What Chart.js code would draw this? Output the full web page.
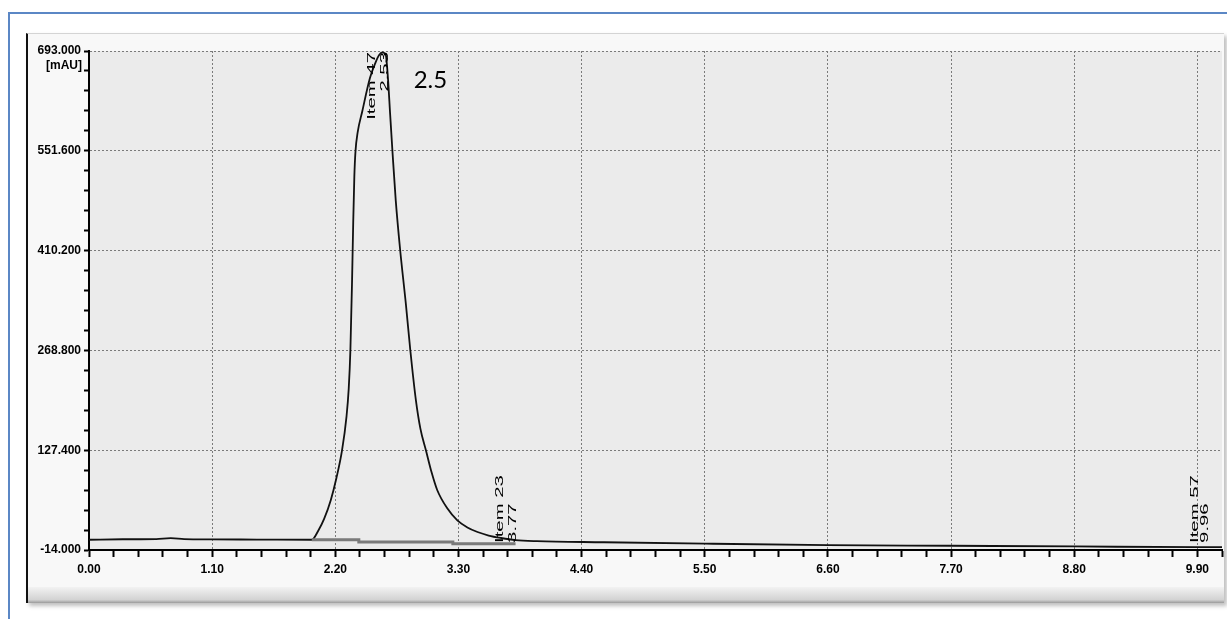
<!DOCTYPE html>
<html lang="en">
<head>
    <meta charset="UTF-8">
    <title>Chromatogram</title>
    <script src="https://cdn.jsdelivr.net/npm/chart.js"></script>
    <style>
        body {
            margin: 0;
            width: 1227px;
            height: 619px;
            overflow: hidden;
            background: #ffffff;
            position: relative;
        }

        /* blue outer border (only left and top visible) */
        .frame {
            position: absolute;
            left: 8px;
            top: 12px;
            width: 1260px;
            height: 660px;
            border-left: 2px solid #5b87c5;
            border-top: 2px solid #5b87c5;
        }

        .panel {
            position: absolute;
            left: 26px;
            top: 33px;
            width: 1196px;
            height: 569px;
            background: #f8f8f8;
            border-left: 2px solid #111;
            border-top: 1px solid #d4d4d4;
            box-shadow: 3px 3px 4px rgba(0, 0, 0, 0.25);
        }

        .bevel {
            position: absolute;
            left: 0;
            right: 0;
            bottom: 0;
            height: 16px;
            background: linear-gradient(#f2f2f2, #d2d2d2 80%, #9a9a9a);
        }

        .chart-box {
            position: absolute;
            left: 0;
            top: 0;
            width: 1227px;
            height: 619px;
        }
    </style>
</head>
<body>
    <div class="frame"></div>
    <div class="panel"><div class="bevel"></div></div>
    <div class="chart-box"><canvas id="chrom"></canvas></div>

    <script>
        // retention time (min) and signal (mAU)
        const times = [0.00, 0.30, 0.60, 0.73, 0.85, 1.10, 1.50, 1.99, 2.05, 2.10,
            2.16, 2.21, 2.26, 2.30, 2.32, 2.335, 2.35, 2.36, 2.37, 2.38,
            2.40, 2.44, 2.51, 2.56, 2.59, 2.62, 2.65, 2.67, 2.69, 2.71,
            2.74, 2.78, 2.83, 2.87, 2.92, 2.96, 3.01, 3.06, 3.11, 3.20,
            3.29, 3.38, 3.47, 3.57, 3.68, 3.81, 4.00, 4.60, 5.50, 6.60,
            7.70, 8.80, 9.90, 10.12];
        const signal = [0.5, 1.2, 1.5, 2.8, 1.5, 1.0, 0.8, 0.5, 14, 30,
            57, 88, 127, 175, 215, 270, 370, 450, 515, 550,
            578, 607, 655, 677, 687, 691, 688, 655, 603, 552,
            481, 410, 335, 269, 198, 158, 127, 96, 71, 45,
            28, 18, 11.5, 6.5, 3, 0, -1.5, -3, -5, -7,
            -8, -9, -10, -10];

        // integration baseline under the main peak
        const baseTimes = [1.99, 2.41, 2.41, 3.25, 3.25, 3.81];
        const baseValues = [0.5, 0.5, -2.5, -2.5, -5, -5];

        // peak labels
        const peakNames = ['Item 47', 'Item 23', 'Item 57'];
        const peakTimes = ['2.53', '3.77', '9.96'];

        // axis ticks
        const xMajorTicks = ['0.00', '1.10', '2.20', '3.30', '4.40', '5.50', '6.60', '7.70', '8.80', '9.90'];
        const yMajorTicks = ['-14.000', '127.400', '268.800', '410.200', '551.600', '693.000'];
        const xMin = 0, xMax = 10.12, xMinorStep = 0.22;
        const yMin = -14, yMax = 693, yMinorStep = 28.28;
        const yUnit = '[mAU]';
        const noteText = '2.5';

        // label placement (px offsets from the peak time, anchor side)
        const labelLayout = [
            { dx: [0, 13], top: true },
            { dx: [-11, 2], top: false },
            { dx: [-9, 1], top: false }
        ];

        const axisFont = { family: '"Liberation Sans", Arial, sans-serif', size: 12, weight: 'bold' };

        function minorTicks(min, max, step) {
            const out = [];
            for (let i = 0; min + i * step <= max + 1e-6; i++) {
                out.push({ value: +(min + i * step).toFixed(4) });
            }
            return out;
        }

        function vText(ctx, text, x, y, fromTop) {
            ctx.save();
            ctx.translate(x, y);
            ctx.rotate(-Math.PI / 2);
            ctx.scale(1.85, 1);
            ctx.textAlign = fromTop ? 'right' : 'left';
            ctx.textBaseline = 'middle';
            ctx.fillText(text, 0, 0);
            ctx.restore();
        }

        const decor = {
            id: 'decor',
            beforeDraw(chart) {
                const { ctx, chartArea: a } = chart;
                ctx.save();
                ctx.fillStyle = '#ebebeb';
                ctx.fillRect(a.left, a.top, a.right - a.left, a.bottom - a.top);
                ctx.restore();
            },
            afterDatasetsDraw(chart) {
                const { ctx, scales } = chart;
                const xs = scales.x, ys = scales.y;
                ctx.save();
                ctx.fillStyle = '#000';

                // unit under the top y label
                ctx.font = 'bold 12px ' + axisFont.family;
                ctx.textAlign = 'right';
                ctx.textBaseline = 'middle';
                ctx.fillText(yUnit, xs.left - 7, ys.getPixelForValue(yMax) + 15);

                // rotated peak labels
                ctx.font = '11px Arial, "Liberation Sans", sans-serif';
                peakNames.forEach((name, i) => {
                    const px = xs.getPixelForValue(parseFloat(peakTimes[i]));
                    const lay = labelLayout[i];
                    const py = lay.top ? ys.getPixelForValue(yMax) + 1 : ys.getPixelForValue(-4);
                    vText(ctx, name, px + lay.dx[0], py, lay.top);
                    vText(ctx, peakTimes[i], px + lay.dx[1], py, lay.top);
                });

                // annotation text
                ctx.font = '24px Lato, "Open Sans", sans-serif';
                ctx.textAlign = 'left';
                ctx.textBaseline = 'alphabetic';
                ctx.fillText(noteText, xs.getPixelForValue(2.9), ys.getPixelForValue(640));
                ctx.restore();
            }
        };

        new Chart(document.getElementById('chrom'), {
            type: 'line',
            data: {
                datasets: [
                    {
                        data: baseTimes.map((t, i) => ({ x: t, y: baseValues[i] })),
                        borderColor: '#7a7a7a',
                        borderWidth: 3,
                        pointRadius: 0
                    },
                    {
                        data: times.map((t, i) => ({ x: t, y: signal[i] })),
                        borderColor: '#111',
                        borderWidth: 1.8,
                        pointRadius: 0,
                        cubicInterpolationMode: 'monotone'
                    }
                ]
            },
            plugins: [decor],
            options: {
                responsive: true,
                maintainAspectRatio: false,
                animation: false,
                layout: { padding: { left: 26, top: 51, right: 5, bottom: 19 } },
                plugins: { legend: { display: false }, tooltip: { enabled: false } },
                scales: {
                    x: {
                        type: 'linear',
                        min: xMin,
                        max: xMax,
                        afterBuildTicks: s => { s.ticks = minorTicks(xMin, xMax, xMinorStep); },
                        afterFit: s => { s.height = 50; },
                        ticks: {
                            autoSkip: false,
                            maxRotation: 0,
                            padding: 5,
                            color: '#000',
                            font: axisFont,
                            callback: (v, i) => (i % 5 === 0 ? xMajorTicks[i / 5] : '')
                        },
                        grid: {
                            color: c => (c.index % 5 === 0 && c.index > 0 ? '#7a7a7a' : 'rgba(0,0,0,0)'),
                            tickColor: '#000',
                            tickWidth: 2,
                            tickLength: 7,
                            lineWidth: 1
                        },
                        border: { color: '#000', width: 2, dash: [2, 2] }
                    },
                    y: {
                        min: yMin,
                        max: yMax,
                        afterBuildTicks: s => { s.ticks = minorTicks(yMin, yMax, yMinorStep); },
                        afterFit: s => { s.width = 63; },
                        ticks: {
                            autoSkip: false,
                            padding: 3,
                            color: '#000',
                            font: axisFont,
                            callback: (v, i) => (i % 5 === 0 ? yMajorTicks[i / 5] : '')
                        },
                        grid: {
                            color: c => (c.index % 5 === 0 && c.index > 0 ? '#7a7a7a' : 'rgba(0,0,0,0)'),
                            tickColor: '#000',
                            tickWidth: 2,
                            tickLength: 5,
                            lineWidth: 1
                        },
                        border: { color: '#000', width: 2, dash: [2, 2] }
                    }
                }
            }
        });
    </script>
</body>
</html>
